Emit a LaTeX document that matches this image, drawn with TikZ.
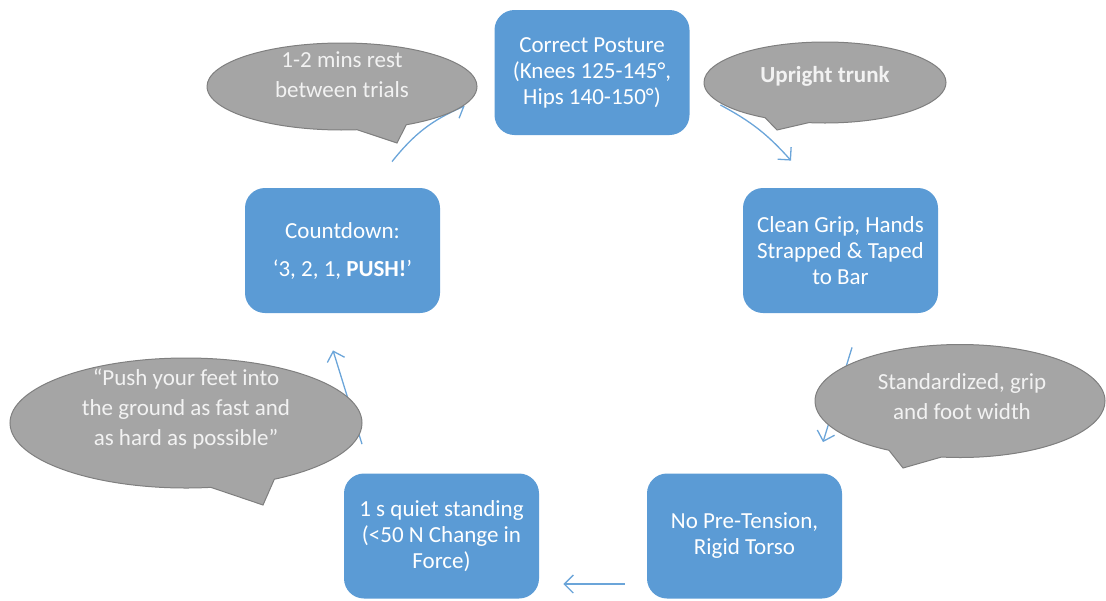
\documentclass[tikz,border=0pt]{standalone}
\usepackage{fontspec}
\setmainfont{Carlito}
\usetikzlibrary{positioning,arrows.meta,shapes.callouts}
\definecolor{boxblue}{HTML}{5B9BD5}
\definecolor{bubgray}{HTML}{A5A5A5}
\definecolor{bubline}{HTML}{7F7F7F}

\begin{document}
\begin{tikzpicture}[x=0.5pt,y=-0.5pt,>={Straight Barb[length=4.5pt,width=9pt]},
  stage/.style={fill=boxblue,rounded corners=10pt,minimum width=97.5pt,minimum height=62.5pt,text=white,align=center,font=\fontsize{11.5}{13}\selectfont},
  bubble/.style={ellipse callout,fill=bubgray,draw=bubline,line width=0.5pt,inner sep=0pt,callout pointer arc=22},
  bubtext/.style={text=white!95!black,align=center,font=\fontsize{11.5}{15}\selectfont},
  flow/.style={->,draw=boxblue!90,line width=0.65pt}]
\useasboundingbox (0,0) rectangle (1106,600);

% the five stages
\node[stage] (top) at (592,72.5) {Correct Posture\\(Knees 125-145°,\\Hips 140-150°)};
\node[stage] (grip) at (840.5,250.5) {Clean Grip, Hands\\Strapped \& Taped\\to Bar};
\node[stage] (tension) at (744.5,536) {No Pre-Tension,\\Rigid Torso};
\node[stage] (quiet) at (441.5,536) {1 s quiet standing\\(<50 N Change in\\Force)};
\node[stage] (cnt) at (342.5,250.5) {Countdown:\\[6pt]‘3, 2, 1, \textbf{PUSH!}’};

% cycle arrows
\draw[flow] ([shift={(49.5,-26)}]cnt.north) to[bend left=14] ([shift={(-29.5,33.5)}]top.west);
\draw[flow] ([shift={(30.5,32.5)}]top.east) to[bend left=10] ([shift={(-49.5,-27)}]grip.north);
\draw[flow] ([shift={(11.5,34)}]grip.south) -- ([shift={(78.5,-31)}]tension.north);
\draw[flow] ([shift={(-22,48)}]tension.west) -- ([shift={(24,48)}]quiet.east);
\draw[flow] ([shift={(-79.5,-29)}]quiet.north) -- ([shift={(-9.5,37)}]cnt.south);

% callouts
\node[bubble,minimum width=135pt,minimum height=43.5pt,callout absolute pointer={(397,143)}] (rest) at (342,86.5) {};
\node[bubtext] at ([shift={(0,-12)}]rest.center) {1-2 mins rest\\between trials};
\node[bubble,minimum width=121pt,minimum height=40.5pt,callout absolute pointer={(777,130)}] (trunk) at (825,82.5) {};
\node[bubtext] at ([shift={(0,-6.5)}]trunk.center) {\textbf{Upright trunk}};
\node[bubble,minimum width=145pt,minimum height=56.5pt,callout absolute pointer={(903,468)}] (std) at (960,401) {};
\node[bubtext] at ([shift={(2,-4)}]std.center) {Standardized, grip\\and foot width};
\node[bubble,minimum width=176pt,minimum height=65pt,callout absolute pointer={(263,505)}] (push) at (186,423) {};
\node[bubtext] at ([shift={(0,-14)}]push.center) {“Push your feet into\\the ground as fast and\\as hard as possible”};
\end{tikzpicture}
\end{document}
